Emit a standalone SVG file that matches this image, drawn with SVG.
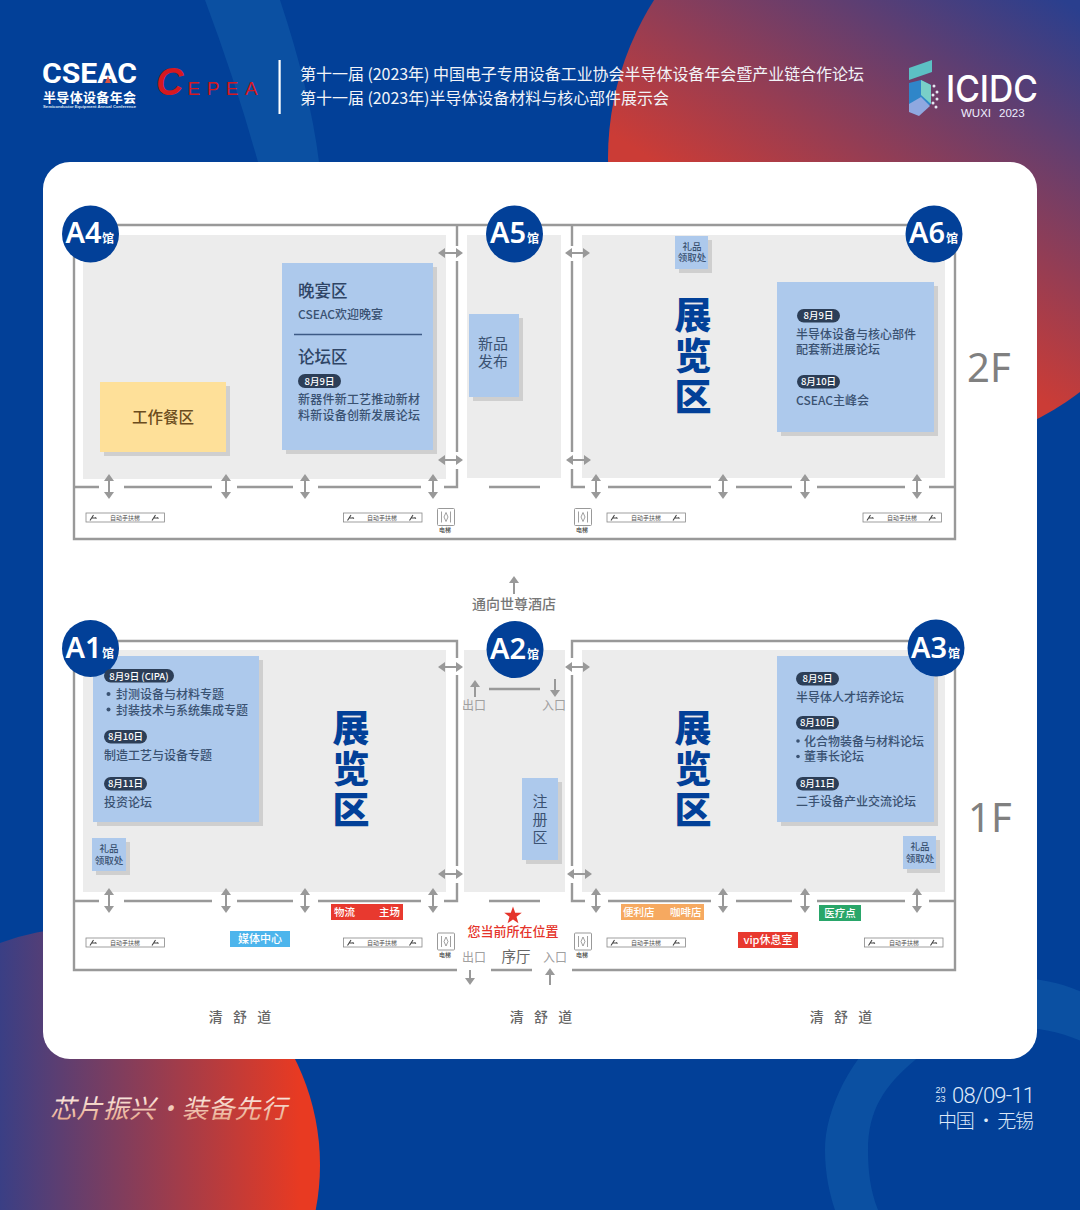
<svg xmlns="http://www.w3.org/2000/svg" width="1080" height="1210" viewBox="0 0 1080 1210">
<style>
text{font-family:"Noto Sans CJK SC","Noto Sans",sans-serif}
.hall{fill:#ececec}
.wall{fill:none;stroke:#999;stroke-width:2.400}
.arr{stroke:#999;stroke-width:2;fill:none;marker-start:url(#ah);marker-end:url(#ah)}
.arr1{stroke:#999;stroke-width:2;fill:none;marker-end:url(#ah)}
.box{fill:#adc9ec}
.sh{fill:#cfcfcf}
.t{fill:#3a5272;font-size:12px;font-weight:500}
.h{fill:#2f4566;font-size:16.500px;font-weight:500}
.pill{fill:#2c3e57}
.pt{fill:#fff;font-size:9.500px;font-weight:500;text-anchor:middle}
.gift{fill:#3a5272;font-size:9.500px;font-weight:500;text-anchor:middle}
.big{fill:#024098;font-size:37px;font-weight:900;text-anchor:middle}
.bd{fill:#024098}
.bt{fill:#fff;font-family:"Noto Sans",sans-serif;font-size:29px;font-weight:600}
.bk{fill:#fff;font-size:12px;font-weight:700}
.esc{fill:#fff;stroke:#888;stroke-width:.8}
.et{fill:#555;font-size:6px;text-anchor:middle}
.lt{fill:#444;font-size:6px;text-anchor:middle;font-weight:500}
.gr{fill:#a0a0a0;font-size:12px;text-anchor:middle}
.road{fill:#666;font-size:14px;font-weight:500;text-anchor:middle;word-spacing:7px}
.tag{fill:#fff;font-size:10.500px;font-weight:500}
.floor{fill:#808080;font-family:"Noto Sans",sans-serif;font-size:40px}
</style>
<defs>
<marker id="ah" markerUnits="userSpaceOnUse" viewBox="0 0 7 10" refX="0" refY="5" markerWidth="7" markerHeight="10" orient="auto-start-reverse"><path d="M0,0L7,5L0,10Z" fill="#999"/></marker>
<linearGradient id="gTR" gradientUnits="userSpaceOnUse" x1="620" y1="140" x2="806" y2="-160"><stop offset="0" stop-color="#cb3c36"/><stop offset="1" stop-color="#2a3f8e"/></linearGradient>
<linearGradient id="gBL" gradientUnits="userSpaceOnUse" x1="0" y1="0" x2="300" y2="0"><stop offset="0" stop-color="#3a3f85"/><stop offset="1" stop-color="#e83a22"/></linearGradient>
<linearGradient id="gS" gradientUnits="userSpaceOnUse" x1="50" y1="1088" x2="50" y2="1126"><stop offset="0" stop-color="#fff"/><stop offset="1" stop-color="#e59a78"/></linearGradient>
<g id="escf"><rect class="esc" x="0" y="0" width="78.500" height="9"/><path d="M4,7.500L7.500,2M6,5H10M9,4.500L10.500,5.500M66,7.500L69.500,2M68,5H72M71,4.500L72.500,5.500" stroke="#444" stroke-width="1.100" fill="none"/></g>
<g id="elev"><rect x="0" y="0" width="17" height="17" rx="1" fill="#fff" stroke="#999"/><path d="M4,3V14M13,3V14M8.500,4L6.500,8.500L8.500,13L10.500,8.500Z" stroke="#888" stroke-width=".8" fill="none"/></g>
</defs>

<g id="background">
<rect width="1080" height="1210" fill="#024098"/>
<path d="M205,0Q235,80 258,162L319,162Q310,90 280,0Z" fill="#0b50a2"/>
<circle cx="902" cy="158" r="294" fill="url(#gTR)"/>
<circle cx="83" cy="1165" r="237" fill="url(#gBL)"/>
<path d="M1090,996C1030,965 950,975 900,1015C850,1055 825,1110 825,1150C825,1175 830,1195 835,1210L878,1210C870,1190 868,1170 868,1150C868,1110 885,1085 915,1060C955,1025 1030,1015 1090,1045Z" fill="#0b50a2"/>
<rect x="43" y="162" width="994" height="897" rx="27" fill="#fff"/>
</g>

<g id="logo-cseac">
<text x="42" y="83" style="font-family:Roboto,'Liberation Sans',sans-serif" font-size="27" font-weight="700" fill="#fff" textLength="95" lengthAdjust="spacingAndGlyphs">CSEAC</text>
<path d="M105,83L108,76L111,83Z" fill="#d8503f"/>
<text x="43" y="102" font-size="13" font-weight="700" fill="#fff" textLength="93">半导体设备年会</text>
<text x="43" y="108" style="font-family:'Liberation Sans',sans-serif" font-size="4" font-weight="700" fill="#dfe6f2" textLength="93" lengthAdjust="spacingAndGlyphs">Semiconductor Equipment Annual Conference</text>
</g>
<g id="logo-cepea">
<text x="156" y="95" style="font-family:'Liberation Sans',sans-serif" fill="#d6181f"><tspan font-size="38" font-weight="700" font-style="italic">C</tspan><tspan font-size="19" dx="4" letter-spacing="6.500">EPEA</tspan></text>
</g>
<rect id="divider" x="278.500" y="60" width="2.200" height="54" fill="#fff"/>
<g id="title" fill="#f2f4f8" font-size="16">
<text x="300" y="80" textLength="564">第十一届 (2023年) 中国电子专用设备工业协会半导体设备年会暨产业链合作论坛</text>
<text x="300" y="103.500" textLength="369">第十一届 (2023年)半导体设备材料与核心部件展示会</text>
</g>
<g id="logo-icidc">
<path d="M909,68L932,60V72L909,80Z" fill="#5cc0c4"/>
<path d="M909,83L921,80L931,85V104L921,110L909,104Z" fill="#2f86c9"/>
<path d="M921,80L931,85V104L921,95Z" fill="#79cfc8"/>
<path d="M909,104L921,97L930,106L919,116L909,112Z" fill="#8fa8e0"/>
<g fill="#e6e8f2"><circle cx="934" cy="86" r="1.500"/><circle cx="937" cy="92" r="1.500"/><circle cx="933" cy="95" r="1.500"/><circle cx="937" cy="99" r="1.500"/><circle cx="933" cy="103" r="1.500"/><circle cx="936" cy="107" r="1.500"/></g>
<text x="946" y="102" style="font-family:Inter,'Liberation Sans',sans-serif" font-size="37" font-weight="500" fill="#fff" textLength="92" lengthAdjust="spacingAndGlyphs">ICIDC</text>
<text y="117" style="font-family:'Liberation Sans',sans-serif" font-size="11.500" fill="#eef"><tspan x="961">WUXI</tspan><tspan x="999">2023</tspan></text>
</g>

<g id="floors">
<rect class="hall" x="83" y="235" width="363" height="244"/>
<rect class="hall" x="467" y="235" width="94" height="243"/>
<rect class="hall" x="582" y="235" width="363" height="243"/>
<rect class="hall" x="83" y="650" width="363" height="242"/>
<rect class="hall" x="464" y="650" width="101" height="242"/>
<rect class="hall" x="582" y="650" width="363" height="242"/>
</g>

<g id="walls">
<path class="wall" d="M74,225H955V539H74ZM457,225V246M457,261V452M457,469V487H444M572,225V246M572,261V452M572,469V487H585M74,487H99M124,487H212M237,487H293M318,487H421M489,487H540M608,487H711M736,487H792M817,487H905M929,487H955"/>
<path class="wall" d="M457,970H74V641H457V658M457,675V866M457,883V901H444M572,658V641H955V970H572M572,675V866M572,883V901H585M491,970H532M74,901H99M124,901H212M237,901H293M318,901H421M489,901H540M489,689H540M608,901H711M736,901H792M817,901H905M929,901H955"/>
</g>

<g id="connectors">
<path class="arr" d="M109,481V492"/><path class="arr" d="M226,481V492"/><path class="arr" d="M305,481V492"/><path class="arr" d="M433,481V492"/>
<path class="arr" d="M596,481V492"/><path class="arr" d="M723,481V492"/><path class="arr" d="M805,481V492"/><path class="arr" d="M917,481V492"/>
<path class="arr" d="M445,253H456"/><path class="arr" d="M445,460H456"/><path class="arr" d="M572,253H583"/><path class="arr" d="M573,460H584"/>
<path class="arr" d="M109,895V906"/><path class="arr" d="M226,895V906"/><path class="arr" d="M305,895V906"/><path class="arr" d="M433,895V906"/>
<path class="arr" d="M596,895V906"/><path class="arr" d="M723,895V906"/><path class="arr" d="M805,895V906"/><path class="arr" d="M917,895V906"/>
<path class="arr" d="M445,667H456"/><path class="arr" d="M445,874H456"/><path class="arr" d="M572,667H583"/><path class="arr" d="M574,874H585"/>
<path class="arr1" d="M514,594V583"/>
<path class="arr1" d="M475,697V687"/>
<path class="arr1" d="M555,679V690"/>
<path class="arr1" d="M470,970V978"/>
<path class="arr1" d="M550,985V975"/>
</g>

<g id="hall-a4">
<rect class="sh" x="104" y="386" width="126" height="70"/><rect x="100" y="382" width="126" height="70" fill="#fee099"/>
<text x="163" y="423" font-size="15.500" font-weight="500" fill="#6b4c1d" text-anchor="middle">工作餐区</text>
<rect class="sh" x="286" y="267" width="151" height="187"/><rect class="box" x="282" y="263" width="151" height="187"/>
<text class="h" x="298" y="297">晚宴区</text>
<text class="t" x="298" y="319">CSEAC欢迎晚宴</text>
<path d="M294,334.500H422" stroke="#3d5a85" stroke-width="1.500"/>
<text class="h" x="298" y="363">论坛区</text>
<rect class="pill" x="298" y="374" width="43" height="14" rx="7"/><text class="pt" x="319.500" y="384.500">8月9日</text>
<text class="t" x="298" y="404" textLength="122">新器件新工艺推动新材</text>
<text class="t" x="298" y="420" textLength="122">料新设备创新发展论坛</text>
<circle class="bd" cx="90.500" cy="234" r="28.500"/><text class="bt" x="65.500" y="243">A4</text><text class="bk" x="102" y="243">馆</text>
</g>
<g id="hall-a5">
<rect class="sh" x="473" y="318" width="50" height="83"/><rect class="box" x="469" y="314" width="50" height="83"/>
<text x="493" y="349" font-size="15" fill="#3a5272" text-anchor="middle">新品</text>
<text x="493" y="367" font-size="15" fill="#3a5272" text-anchor="middle">发布</text>
<circle class="bd" cx="514.500" cy="234" r="28.500"/><text class="bt" x="490" y="243">A5</text><text class="bk" x="527" y="243">馆</text>
</g>
<g id="hall-a6">
<rect class="sh" x="679" y="240" width="33" height="33"/><rect class="box" x="675" y="236" width="33" height="33"/>
<text class="gift" x="692" y="250">礼品</text><text class="gift" x="692" y="261">领取处</text>
<text class="big" x="693" y="329">展</text><text class="big" x="693" y="370">览</text><text class="big" x="693" y="411">区</text>
<rect class="sh" x="781" y="286" width="157" height="150"/><rect class="box" x="777" y="282" width="157" height="150"/>
<rect class="pill" x="797" y="309" width="43" height="13.500" rx="6.700"/><text class="pt" x="818.500" y="319">8月9日</text>
<text class="t" x="796" y="339">半导体设备与核心部件</text>
<text class="t" x="796" y="354">配套新进展论坛</text>
<rect class="pill" x="797" y="375" width="43" height="13.500" rx="6.700"/><text class="pt" x="818.500" y="385">8月10日</text>
<text class="t" x="796" y="405">CSEAC主峰会</text>
<circle class="bd" cx="934" cy="234" r="28.500"/><text class="bt" x="909" y="243">A6</text><text class="bk" x="946" y="243">馆</text>
</g>
<text id="floor-2f" class="floor" x="967" y="382">2F</text>

<g id="fac-2f">
<use href="#escf" x="86" y="513"/><text class="et" x="125" y="520">自动手扶梯</text>
<use href="#escf" x="343.500" y="513"/><text class="et" x="382" y="520">自动手扶梯</text>
<use href="#escf" x="607" y="513"/><text class="et" x="646" y="520">自动手扶梯</text>
<use href="#escf" x="863" y="513"/><text class="et" x="902" y="520">自动手扶梯</text>
<use href="#elev" x="437.500" y="508.500"/><text class="lt" x="445" y="532">电梯</text>
<use href="#elev" x="574.500" y="508.500"/><text class="lt" x="582" y="532">电梯</text>
</g>
<text id="to-hotel" x="514" y="608.500" font-size="14" font-weight="500" fill="#777" text-anchor="middle">通向世尊酒店</text>

<g id="hall-a1">
<rect class="sh" x="97" y="660" width="166" height="166"/><rect class="box" x="93" y="656" width="166" height="166"/>
<circle class="bd" cx="90.500" cy="648.500" r="28.500"/><text class="bt" x="65.500" y="658">A1</text><text class="bk" x="102" y="658">馆</text>
<rect class="pill" x="104" y="669" width="70" height="13.500" rx="6.700"/><text class="pt" x="139" y="679.500">8月9日 (CIPA)</text>
<circle cx="108.500" cy="694" r="2" fill="#3a5272"/><circle cx="108.500" cy="709.500" r="2" fill="#3a5272"/>
<text class="t" x="116" y="699">封测设备与材料专题</text>
<text class="t" x="116" y="714.500">封装技术与系统集成专题</text>
<rect class="pill" x="104" y="730" width="43" height="13.500" rx="6.700"/><text class="pt" x="125.500" y="740">8月10日</text>
<text class="t" x="104" y="760">制造工艺与设备专题</text>
<rect class="pill" x="104" y="777" width="43" height="13.500" rx="6.700"/><text class="pt" x="125.500" y="787">8月11日</text>
<text class="t" x="104" y="807">投资论坛</text>
<rect class="sh" x="96" y="842" width="34" height="33"/><rect class="box" x="92" y="838" width="34" height="33"/>
<text class="gift" x="109" y="852">礼品</text><text class="gift" x="109" y="864">领取处</text>
<text class="big" x="351" y="742">展</text><text class="big" x="351" y="783">览</text><text class="big" x="351" y="824">区</text>
<rect x="331" y="904" width="72" height="16" fill="#e8392f"/>
<text class="tag" x="334" y="915.500">物流</text><text class="tag" x="379" y="915.500">主场</text>
<rect x="230" y="931" width="60" height="16" fill="#4db5ec"/>
<text class="tag" x="260" y="943" text-anchor="middle" style="font-size:11px">媒体中心</text>
</g>
<g id="hall-a2">
<circle class="bd" cx="515" cy="649.500" r="28.500"/><text class="bt" x="490" y="659">A2</text><text class="bk" x="527" y="659">馆</text>
<text class="gr" x="474" y="709.500">出口</text><text class="gr" x="554" y="709.500">入口</text>
<rect class="sh" x="526" y="782" width="36" height="82"/><rect class="box" x="522" y="778" width="36" height="82"/>
<text x="540" y="807" font-size="15" fill="#3a5272" text-anchor="middle">注</text>
<text x="540" y="825" font-size="15" fill="#3a5272" text-anchor="middle">册</text>
<text x="540" y="843" font-size="15" fill="#3a5272" text-anchor="middle">区</text>
<path d="M513,906.500L515.200,912.800L521.800,912.800L516.500,916.800L518.400,923.200L513,919.400L507.600,923.200L509.500,916.800L504.200,912.800L510.800,912.800Z" fill="#e5342b"/>
<text x="513" y="936" font-size="13" font-weight="500" fill="#e5342b" text-anchor="middle">您当前所在位置</text>
<text class="gr" x="474" y="962">出口</text>
<text x="516" y="962" font-size="14.500" fill="#666" text-anchor="middle">序厅</text>
<text class="gr" x="555" y="962">入口</text>
</g>
<g id="hall-a3">
<text class="big" x="693" y="742">展</text><text class="big" x="693" y="783">览</text><text class="big" x="693" y="824">区</text>
<rect class="sh" x="781" y="660" width="157" height="166"/><rect class="box" x="777" y="656" width="157" height="166"/>
<circle class="bd" cx="936" cy="648" r="28.500"/><text class="bt" x="911" y="657.500">A3</text><text class="bk" x="948" y="657.500">馆</text>
<rect class="pill" x="796" y="672" width="43" height="13.500" rx="6.700"/><text class="pt" x="817.500" y="682">8月9日</text>
<text class="t" x="796" y="702">半导体人才培养论坛</text>
<rect class="pill" x="796" y="716" width="43" height="13.500" rx="6.700"/><text class="pt" x="817.500" y="726">8月10日</text>
<circle cx="798" cy="741" r="1.800" fill="#3a5272"/><circle cx="798" cy="756.500" r="1.800" fill="#3a5272"/>
<text class="t" x="804" y="745.500">化合物装备与材料论坛</text>
<text class="t" x="804" y="761">董事长论坛</text>
<rect class="pill" x="796" y="777" width="43" height="13.500" rx="6.700"/><text class="pt" x="817.500" y="787">8月11日</text>
<text class="t" x="796" y="806">二手设备产业交流论坛</text>
<rect class="sh" x="907" y="840" width="33" height="33"/><rect class="box" x="903" y="836" width="33" height="33"/>
<text class="gift" x="920" y="850">礼品</text><text class="gift" x="920" y="862">领取处</text>
<rect x="621" y="904" width="83" height="16" fill="#f6a960"/>
<text class="tag" x="623" y="916">便利店</text><text class="tag" x="670" y="916">咖啡店</text>
<rect x="819" y="905" width="42" height="16" fill="#29a66a"/><text class="tag" x="840" y="917" text-anchor="middle">医疗点</text>
<rect x="738" y="932" width="60" height="16" fill="#e8392f"/><text class="tag" x="768" y="944" text-anchor="middle" style="font-size:11px">vip休息室</text>
</g>
<text id="floor-1f" class="floor" x="968" y="832">1F</text>

<g id="fac-1f">
<use href="#escf" x="86" y="938"/><text class="et" x="125" y="945">自动手扶梯</text>
<use href="#escf" x="343.500" y="938"/><text class="et" x="382" y="945">自动手扶梯</text>
<use href="#escf" x="607" y="938"/><text class="et" x="646" y="945">自动手扶梯</text>
<use href="#escf" x="864.500" y="938"/><text class="et" x="904" y="945">自动手扶梯</text>
<use href="#elev" x="437.500" y="933"/><text class="lt" x="445" y="957">电梯</text>
<use href="#elev" x="574.500" y="933"/><text class="lt" x="582" y="957">电梯</text>
</g>
<g id="roads">
<text class="road" x="240" y="1022">清 舒 道</text>
<text class="road" x="541" y="1022">清 舒 道</text>
<text class="road" x="841" y="1022">清 舒 道</text>
</g>

<text id="slogan" x="50" y="1118" font-size="26" font-style="italic" fill="url(#gS)" textLength="237">芯片振兴·装备先行</text>
<g id="date" fill="#dfe9f8">
<text x="935.500" y="1093" style="font-family:'Liberation Sans',sans-serif" font-size="9">20</text>
<text x="935.500" y="1102" style="font-family:'Liberation Sans',sans-serif" font-size="9">23</text>
<text x="952" y="1103" style="font-family:Roboto,sans-serif" font-size="22" font-weight="300" textLength="83">08/09-11</text>
<text x="938" y="1128" font-size="19" font-weight="300" textLength="96">中国 · 无锡</text>
</g>
</svg>
